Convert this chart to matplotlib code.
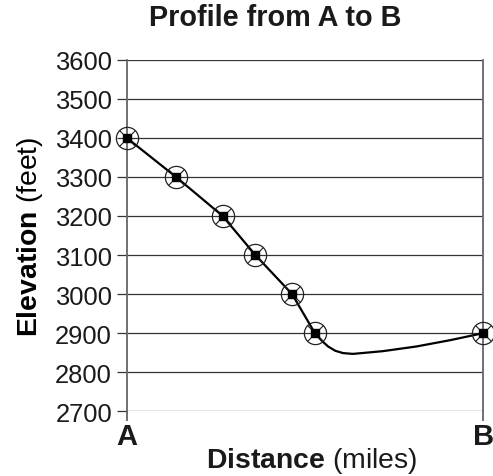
import numpy as np
import matplotlib.pyplot as plt

plt.rcParams['font.family'] = ['Liberation Sans', 'DejaVu Sans']
plt.rcParams['mathtext.fontset'] = 'custom'
plt.rcParams['mathtext.rm'] = 'Liberation Sans'
plt.rcParams['mathtext.bf'] = 'Liberation Sans:bold'
plt.rcParams['text.color'] = '#1a1a1a'
plt.rcParams['xtick.labelcolor'] = '#1a1a1a'
plt.rcParams['ytick.labelcolor'] = '#1a1a1a'

# === data ===
# marked points (distance as fraction of A->B, elevation in feet)
point_dist = [0.0, 0.138, 0.269, 0.361, 0.464, 0.528, 1.0]
point_elev = [3400, 3300, 3200, 3100, 3000, 2900, 2900]

# traced profile line (passes through the marked points)
curve_dist = [0.0, 0.138, 0.205, 0.269, 0.361, 0.464, 0.528,
              0.548, 0.565, 0.585, 0.607, 0.635, 0.719, 0.813, 0.907, 1.0]
curve_elev = [3400, 3300, 3249, 3200, 3100, 3000, 2900,
              2880, 2866, 2855, 2849, 2847, 2854, 2866, 2882, 2900]

y_ticks = [2700, 2800, 2900, 3000, 3100, 3200, 3300, 3400, 3500, 3600]
x_ticks = [0.0, 1.0]
x_labels = ["A", "B"]

fig = plt.figure(figsize=(4.93, 4.77), dpi=100)
ax = fig.add_axes([0.257, 0.1356, 0.723, 0.7372])

ax.plot(curve_dist, curve_elev, color="black", linewidth=1.6,
        solid_capstyle="round", solid_joinstyle="round", zorder=3, clip_on=False)

# marker = open circle + thin x + filled centre
ax.plot(point_dist, point_elev, linestyle="none", marker="o", markersize=16,
        markerfacecolor="none", markeredgecolor="#222222",
        markeredgewidth=0.9, zorder=4, clip_on=False)
ax.plot(point_dist, point_elev, linestyle="none", marker="x", markersize=11,
        markeredgecolor="#222222", markeredgewidth=0.8, zorder=4, clip_on=False)
ax.plot(point_dist, point_elev, linestyle="none", marker="s", markersize=5.5,
        color="black", zorder=5, clip_on=False)

ax.set_xlim(0, 1)
ax.set_ylim(2700, 3600)
ax.set_yticks(y_ticks)
ax.set_yticklabels([str(v) for v in y_ticks], fontsize=18.4)
ax.set_xticks(x_ticks)
ax.set_xticklabels(x_labels, fontsize=21, fontweight="bold")

ax.grid(axis="y", color="#333333", linewidth=0.9)
ax.set_axisbelow(True)

for side in ["top", "bottom"]:
    ax.spines[side].set_visible(False)
for side in ["left", "right"]:
    ax.spines[side].set_color("#666666")
    ax.spines[side].set_linewidth(1.3)

ax.tick_params(axis="y", direction="out", length=7, width=0.9,
               color="#333333", pad=3.5)
ax.tick_params(axis="x", direction="out", length=7, width=1.3,
               color="#666666", pad=0.5)

ax.set_ylabel(r"$\bf{Elevation}$ (feet)", fontsize=20.4, labelpad=7)

fig.text(312 / 493, 1 - 468 / 477, r"$\bf{Distance}$ (miles)",
         fontsize=20.4, ha="center", va="baseline")
fig.text(275.5 / 493, 1 - 26 / 477, "Profile from A to B",
         fontsize=20.8, fontweight="bold", ha="center", va="baseline")

fig.savefig("out.png", dpi=100)
